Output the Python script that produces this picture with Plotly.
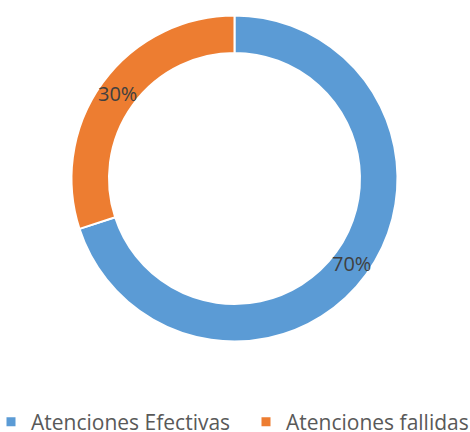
import math
import plotly.graph_objects as go

categories = ["Atenciones Efectivas", "Atenciones fallidas"]
values = [70, 30]
colors = ["#5B9BD5", "#ED7D31"]

W, H = 470, 432
HOLE = 0.77
DOM_X = [0.1521, 0.8457]
DOM_Y = [0.2095, 0.9641]

fig = go.Figure()
fig.add_trace(go.Pie(
    labels=categories,
    values=values,
    hole=HOLE,
    sort=False,
    direction="clockwise",
    rotation=0,
    marker=dict(colors=colors, line=dict(color="white", width=2)),
    textinfo="none",
    hoverinfo="label+percent",
    domain=dict(x=DOM_X, y=DOM_Y),
    showlegend=False,
))

# percentage labels placed in the middle of the ring at each slice's mid-angle
total = sum(values)
R = min((DOM_X[1] - DOM_X[0]) * W, (DOM_Y[1] - DOM_Y[0]) * H) / 2
r_mid = R * (1 + HOLE) / 2
cx = (DOM_X[0] + DOM_X[1]) / 2
cy = (DOM_Y[0] + DOM_Y[1]) / 2
cum = 0
for v in values:
    theta = 2 * math.pi * (cum + v / 2) / total
    cum += v
    fig.add_annotation(
        x=cx + r_mid * math.sin(theta) / W,
        y=cy + r_mid * math.cos(theta) / H,
        xref="paper", yref="paper",
        text=f"{round(100 * v / total)}%",
        showarrow=False,
        font=dict(family="Open Sans", size=20, color="#404040"),
        xanchor="center", yanchor="middle",
    )

# legend entries (one legend per category so their spacing can match)
legend_names = ["legend", "legend2"]
legend_x = [(32 - 41) / W, (287 - 41) / W]
for name, col, lg in zip(categories, colors, legend_names):
    fig.add_trace(go.Scatter(
        x=[None], y=[None], mode="markers", name=name,
        marker=dict(symbol="square", size=9, color=col),
        legend=lg, showlegend=True, hoverinfo="skip",
    ))

legend_common = dict(
    orientation="h", y=(H - 422) / H, yanchor="middle", xanchor="left",
    font=dict(family="Open Sans", size=21, color="#595959"),
    bgcolor="rgba(0,0,0,0)",
)
fig.update_layout(
    width=W, height=H,
    margin=dict(l=0, r=0, t=0, b=0, autoexpand=False),
    paper_bgcolor="white",
    plot_bgcolor="white",
    xaxis=dict(visible=False),
    yaxis=dict(visible=False),
    legend=dict(x=legend_x[0], **legend_common),
    legend2=dict(x=legend_x[1], **legend_common),
)

fig.write_html(
    "out.html",
    config={"displayModeBar": False},
    post_script="document.body.style.margin='0';",
)
